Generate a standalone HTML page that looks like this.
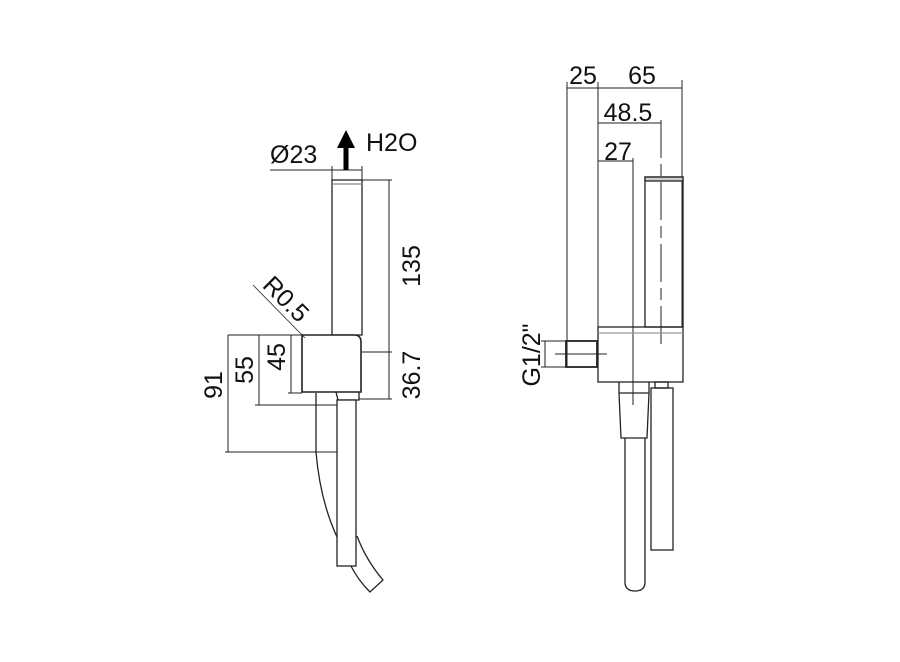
<!DOCTYPE html>
<html><head><meta charset="utf-8"><style>
html,body{margin:0;padding:0;background:#fff;}
svg{display:block;}
text{font-family:"Liberation Sans",sans-serif;font-size:25px;fill:#111;}
</style></head><body>
<svg width="900" height="662" viewBox="0 0 900 662" xmlns="http://www.w3.org/2000/svg">
<g fill="none" stroke="#222" stroke-width="1.3">
<rect x="332" y="180" width="30" height="155" fill="#fff"/>
<line x1="332" y1="184" x2="362" y2="184" stroke="#888"/>
<path d="M302 335 H354 Q361 335 361 342 V392 H302 Z" fill="#fff" stroke-width="1.6"/>
<path d="M336 392 L338 400 H359 V392" />
<path d="M316 393 V452 Q320 500 337 537"/>
<rect x="337" y="400" width="19" height="166" fill="#fff"/>
<path d="M357 536 Q366 560 383 580 L370 592 Q358 580 351 566"/>
<line x1="270" y1="170" x2="362" y2="170" stroke-width="1"/>
<line x1="332" y1="166" x2="332" y2="180" stroke-width="1"/>
<line x1="362" y1="166" x2="362" y2="180" stroke-width="1"/>
<line x1="362" y1="180" x2="392" y2="180" stroke-width="1"/>
<line x1="362" y1="352" x2="392" y2="352" stroke-width="1"/>
<line x1="359" y1="399" x2="392" y2="399" stroke-width="1"/>
<line x1="389" y1="180" x2="389" y2="399" stroke-width="1"/>
<line x1="228" y1="335" x2="302" y2="335" stroke-width="1"/>
<line x1="228" y1="335" x2="228" y2="452" stroke-width="1"/>
<line x1="225" y1="452" x2="337" y2="452" stroke-width="1"/>
<line x1="259" y1="335" x2="259" y2="405" stroke-width="1"/>
<line x1="255" y1="405" x2="337" y2="405" stroke-width="1"/>
<line x1="291" y1="335" x2="291" y2="393" stroke-width="1"/>
<line x1="288" y1="393" x2="302" y2="393" stroke-width="1"/>
<line x1="253" y1="285" x2="305" y2="338" stroke-width="0.8"/>

<line x1="567" y1="88" x2="682" y2="88" stroke-width="1"/>
<line x1="567" y1="82" x2="567" y2="367" stroke-width="1"/>
<line x1="598" y1="82" x2="598" y2="327" stroke-width="1"/>
<line x1="682" y1="80" x2="682" y2="327" stroke-width="1"/>
<line x1="598" y1="123" x2="661" y2="123" stroke-width="1"/>
<line x1="661" y1="120" x2="661" y2="350" stroke-width="1" stroke-dasharray="38,6,12,6"/>
<line x1="598" y1="161" x2="633" y2="161" stroke-width="1"/>
<line x1="633" y1="158" x2="633" y2="405" stroke-width="1"/>
<rect x="645" y="177" width="38" height="150"/>
<rect x="645" y="177" width="38" height="4" fill="#ccc"/>
<rect x="598" y="327" width="85" height="55" fill="none"/>
<line x1="598" y1="333" x2="683" y2="333" stroke="#999"/>
<rect x="566" y="341" width="31" height="26" stroke-width="1.8"/>
<line x1="555" y1="354" x2="607" y2="354" stroke-width="1"/>
<line x1="541" y1="341" x2="566" y2="341" stroke-width="1"/>
<line x1="541" y1="367" x2="566" y2="367" stroke-width="1"/>
<line x1="545" y1="341" x2="545" y2="367" stroke-width="1"/>
<path d="M619 382 V393 L621 438 H647 L649 393 V382"/>
<line x1="619" y1="393" x2="649" y2="393"/>
<path d="M625 438 V582 Q625 591 635 591 Q645 591 645 582 V438"/>
<rect x="651" y="388" width="22" height="162"/>
<rect x="655" y="382" width="13" height="6"/>
</g>
<line x1="346" y1="170" x2="346" y2="146" stroke="#000" stroke-width="5"/>
<polygon points="346,130 337,148 355,148" fill="#000"/>
<text x="270" y="163">Ø23</text>
<text x="366" y="151">H2O</text>
<text transform="translate(420,266) rotate(-90)" text-anchor="middle">135</text>
<text transform="translate(420,375) rotate(-90)" text-anchor="middle">36.7</text>
<text transform="translate(222,385) rotate(-90)" text-anchor="middle">91</text>
<text transform="translate(253,370) rotate(-90)" text-anchor="middle">55</text>
<text transform="translate(285,357) rotate(-90)" text-anchor="middle">45</text>
<text transform="translate(280,305) rotate(45)" text-anchor="middle">R0.5</text>
<text x="583" y="84" text-anchor="middle">25</text>
<text x="642" y="84" text-anchor="middle">65</text>
<text x="628" y="121" text-anchor="middle">48.5</text>
<text x="618" y="160" text-anchor="middle">27</text>
<text transform="translate(540,355) rotate(-90)" text-anchor="middle">G1/2"</text>
</svg>
</body></html>
